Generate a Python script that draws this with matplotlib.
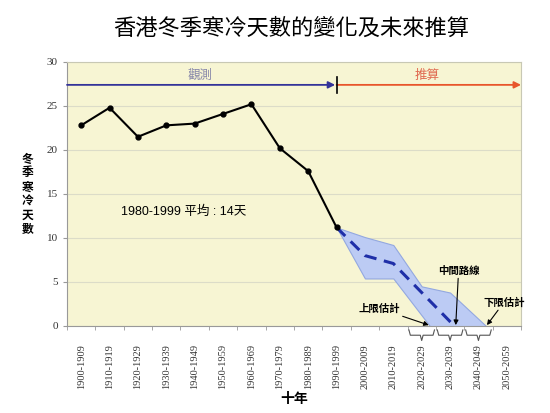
import matplotlib
matplotlib.use("Agg")
import matplotlib.pyplot as plt
import numpy as np

plt.rcParams['font.family'] = ['Noto Sans CJK TC', 'DejaVu Sans']

# Observed decades and projections
decades = ["1900-1909", "1910-1919", "1920-1929", "1930-1939", "1940-1949",
           "1950-1959", "1960-1969", "1970-1979", "1980-1989", "1990-1999",
           "2000-2009", "2010-2019", "2020-2029", "2030-2039", "2040-2049",
           "2050-2059"]
observed = [22.8, 24.8, 21.5, 22.8, 23.0, 24.1, 25.2, 20.2, 17.6, 11.2]

# projections start at 1990-1999 (index 9); values below 0 are clipped by the axis
proj_idx = [9, 10, 11, 12, 13, 14, 15]
proj_mid = [11.2, 8.0, 7.1, 3.8, 0.5, -2.8, -6.0]
proj_high = [11.2, 10.1, 9.2, 4.5, 3.8, 0.8, -2.2]
proj_low = [11.2, 5.4, 5.4, 1.2, -3.0, -7.0, -11.0]

bracket_idx = [12, 13, 14]

fig = plt.figure(figsize=(5.5, 4.13), dpi=100)
ax = fig.add_axes([0.1218, 0.2107, 0.8255, 0.6392])
ax.set_facecolor("#f7f5d3")

x_obs = np.arange(len(observed))
ax.fill_between(proj_idx, proj_low, proj_high, facecolor="#bccbf4",
                edgecolor="#93a8e0", linewidth=0.8, zorder=2)
ax.plot(proj_idx, proj_mid, color="#1f2fa8", linewidth=2.2,
        dashes=(4, 2.5), zorder=3)
ax.plot(x_obs, observed, color="black", linewidth=1.5, marker="o",
        markersize=3.5, zorder=4)

ax.set_xlim(-0.5, len(decades) - 0.5)
ax.set_ylim(0, 30)
ax.set_yticks(range(0, 31, 5))
ax.yaxis.grid(True, color="#dcdcc8", linewidth=0.8)
ax.set_axisbelow(True)

ax.set_xticks(np.arange(len(decades)))
ax.set_xticklabels(decades, rotation=90, fontsize=7.5,
                   family=['Liberation Serif'], color="#333333")
ax.set_xticks(np.arange(-0.5, len(decades)), minor=True)
ax.tick_params(axis='x', which='major', length=0, pad=13)
ax.tick_params(axis='x', which='minor', length=3, color="#999999")
ax.tick_params(axis='y', length=3, color="#999999", labelsize=8)
for lab in ax.get_yticklabels():
    lab.set_family(['Liberation Serif'])
    lab.set_color("#333333")
for sp in ax.spines.values():
    sp.set_color("#c8c8b4")
ax.spines['bottom'].set_color("#999999")
ax.spines['left'].set_color("#999999")

# observation / projection arrows
arr_y = 27.4
split = 9
ax.annotate("", xy=(split - 0.05, arr_y), xytext=(-0.5, arr_y),
            arrowprops=dict(arrowstyle="-|>", color="#333399", lw=1.3,
                            mutation_scale=10, shrinkA=0, shrinkB=0))
ax.annotate("", xy=(len(decades) - 0.5, arr_y), xytext=(split, arr_y),
            arrowprops=dict(arrowstyle="-|>", color="#e8552b", lw=1.3,
                            mutation_scale=10, shrinkA=0, shrinkB=0))
ax.plot([split, split], [arr_y - 0.9, arr_y + 0.9], color="black", lw=1.2,
        zorder=5)
ax.text(4.2, arr_y + 0.35, "觀測", ha="center", va="bottom", fontsize=9,
        color="#8888aa")
ax.text(12.2, arr_y + 0.35, "推算", ha="center", va="bottom", fontsize=9,
        color="#e06a50")

ax.text(3.6, 13.0, "1980-1999 平均 : 14天", ha="center", va="center",
        fontsize=9, family=['Liberation Sans', 'Noto Sans CJK TC'])

# annotations for the projection band
ap = dict(arrowstyle="-|>", color="black", lw=0.8, mutation_scale=7,
          shrinkA=0, shrinkB=0)
ax.annotate("上限估計", xy=(12.25, 0.1), xytext=(10.5, 2.0), ha="center",
            va="center", fontsize=7.5, fontweight="bold", arrowprops=ap)
ax.annotate("中間路線", xy=(13.2, 0.1), xytext=(13.3, 6.3), ha="center",
            va="center", fontsize=7.5, fontweight="bold", arrowprops=ap)
ax.annotate("下限估計", xy=(14.3, 0.1), xytext=(14.9, 2.7), ha="center",
            va="center", fontsize=7.5, fontweight="bold", arrowprops=ap)

# braces under the last three decades
trans = ax.get_xaxis_transform()
for i in bracket_idx:
    x0, x1, xm = i - 0.45, i + 0.45, i
    bx = [x0, x0 + 0.05, xm - 0.05, xm, xm + 0.05, x1 - 0.05, x1]
    by = [-0.015, -0.035, -0.035, -0.055, -0.035, -0.035, -0.015]
    ax.plot(bx, by, transform=trans, color="#555555", lw=0.8, clip_on=False)

ax.set_ylabel("\n".join("冬季寒冷天數"), rotation=0, fontsize=8.5,
              fontweight="bold", linespacing=1.1, va="center", labelpad=14)
ax.set_xlabel("十年", fontsize=10, fontweight="bold", labelpad=2)

fig.suptitle("香港冬季寒冷天數的變化及未來推算", x=0.53, y=0.96,
             fontsize=16)

fig.savefig("out.png", dpi=100, facecolor="white")
